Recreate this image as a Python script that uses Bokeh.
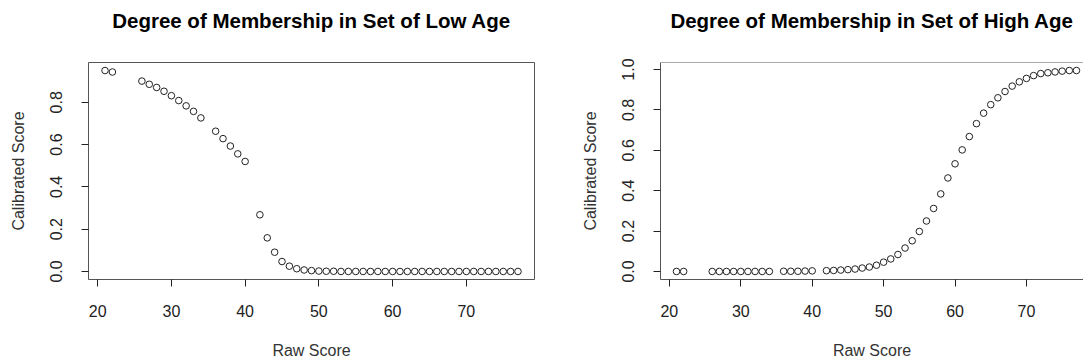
from bokeh.plotting import figure
from bokeh.layouts import row
from bokeh.models import FixedTicker, PrintfTickFormatter, Range1d, Span
from bokeh.embed import file_html
from bokeh.resources import INLINE

# ---- data ----
raw_score = ([21, 22] + list(range(26, 35)) + list(range(36, 41)) + list(range(42, 78)))

low_age = [0.950, 0.943,
           0.900, 0.885, 0.870, 0.852, 0.831, 0.808, 0.783, 0.757, 0.726,
           0.663, 0.628, 0.593, 0.556, 0.520,
           0.268, 0.159, 0.091, 0.047, 0.025, 0.013, 0.007, 0.004, 0.002, 0.001, 0.001,
           0.000, 0.000, 0.000, 0.000, 0.000, 0.000, 0.000, 0.000, 0.000, 0.000,
           0.000, 0.000, 0.000, 0.000, 0.000, 0.000, 0.000, 0.000, 0.000, 0.000,
           0.000, 0.000, 0.000, 0.000, 0.000]

high_age = [0.000, 0.000,
            0.000, 0.000, 0.000, 0.000, 0.000, 0.000, 0.000, 0.000, 0.000,
            0.001, 0.001, 0.001, 0.002, 0.003,
            0.004, 0.005, 0.007, 0.009, 0.012, 0.017, 0.022, 0.031, 0.046, 0.062,
            0.084, 0.116, 0.152, 0.198, 0.250, 0.312, 0.384, 0.463, 0.533, 0.602,
            0.668, 0.732, 0.784, 0.826, 0.860, 0.891, 0.918, 0.939, 0.956, 0.970,
            0.980, 0.984, 0.988, 0.992, 0.995, 0.995]

x_ticks = [20, 30, 40, 50, 60, 70]
y_ticks_low = [0.0, 0.2, 0.4, 0.6, 0.8]
y_ticks_high = [0.0, 0.2, 0.4, 0.6, 0.8, 1.0]

titles = ["Degree of Membership in Set of Low Age",
          "Degree of Membership in Set of High Age"]
x_label = "Raw Score"
y_label = "Calibrated Score"

FONT = "Liberation Sans"
BOX = "#555555"
INK = "#222222"


def r_range(vals):
    lo, hi = min(vals), max(vals)
    pad = 0.04 * (hi - lo)
    return lo - pad, hi + pad


def make_fig(title, ys, yticks, width, border_left, border_right, visible_frac, full_box):
    x0, x1 = r_range(raw_score)
    y0, y1 = r_range(ys)
    x1 = x0 + (x1 - x0) * visible_frac
    p = figure(width=width, height=361, output_backend="svg", toolbar_location=None,
               x_range=Range1d(x0, x1), y_range=Range1d(y0, y1),
               min_border_left=border_left, min_border_right=border_right,
               min_border_top=62, min_border_bottom=81,
               background_fill_color="white", border_fill_color="white")
    p.grid.visible = False
    if full_box:
        p.outline_line_color = BOX
        p.outline_line_width = 1
        p.outline_line_alpha = 1
    else:
        p.outline_line_color = None
        p.add_layout(Span(location=y1, dimension="width", line_color=BOX, line_width=1))

    p.title.text = title
    p.title.align = "center"
    p.title.text_font = FONT
    p.title.text_font_size = "20.5px"
    p.title.text_font_style = "bold"
    p.title.text_color = "black"
    p.title.padding = dict(left=0, right=0, top=0, bottom=26)

    for ax in (p.xaxis[0], p.yaxis[0]):
        ax.axis_line_color = None if full_box else BOX
        ax.major_tick_in = 0
        ax.major_tick_out = 7
        ax.major_tick_line_color = INK
        ax.minor_tick_line_color = None
        ax.major_label_text_font = FONT
        ax.major_label_text_font_size = "16px"
        ax.major_label_text_color = INK
        ax.axis_label_text_font = FONT
        ax.axis_label_text_font_size = "16px"
        ax.axis_label_text_font_style = "normal"
        ax.axis_label_text_color = "#333333"

    p.xaxis.ticker = FixedTicker(ticks=x_ticks)
    p.xaxis.axis_label = x_label
    p.xaxis.major_label_standoff = 18
    p.xaxis.axis_label_standoff = 22

    p.yaxis.ticker = FixedTicker(ticks=yticks)
    p.yaxis.formatter = PrintfTickFormatter(format="%.1f")
    p.yaxis.major_label_orientation = "parallel"
    p.yaxis.axis_label = y_label
    p.yaxis.major_label_standoff = 19
    p.yaxis.axis_label_standoff = 21

    p.scatter(raw_score, ys, marker="circle", size=6.6, fill_color=None,
              line_color=INK, line_width=1)
    return p


p1 = make_fig(titles[0], low_age, y_ticks_low, 578, 88, 44, 1.0, True)
p2 = make_fig(titles[1], high_age, y_ticks_high, 505, 80, 0, 425 / 434, False)

layout = row(p1, p2)
open("out.html", "w").write(file_html(layout, INLINE))
